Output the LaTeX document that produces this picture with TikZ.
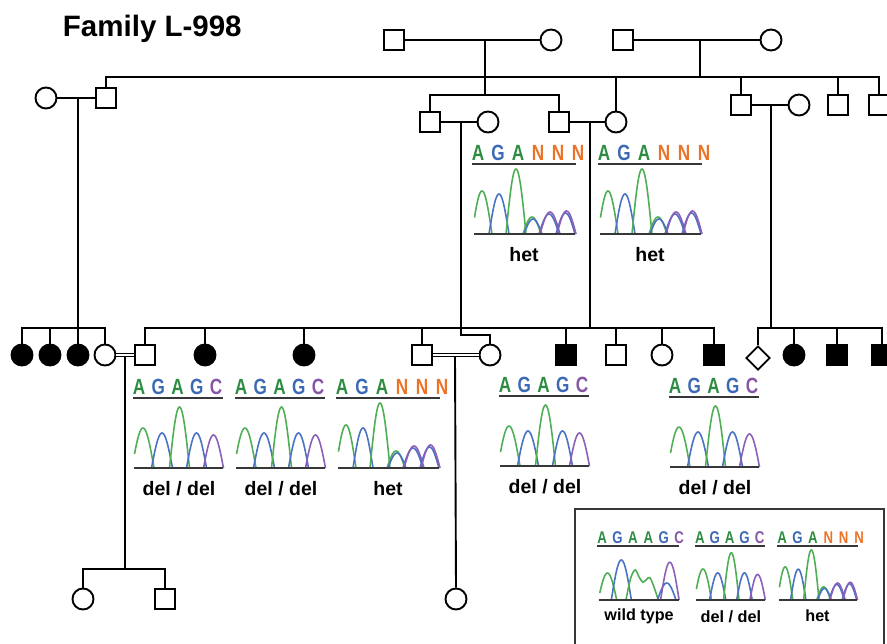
\documentclass[tikz,border=0pt]{standalone}
\usepackage{fontspec}
\setmainfont{Liberation Sans}
\usepackage{graphicx}
\usetikzlibrary{shapes.geometric}

\definecolor{seqA}{RGB}{45,140,65}
\definecolor{seqG}{RGB}{60,105,180}
\definecolor{seqC}{RGB}{135,85,165}
\definecolor{seqN}{RGB}{235,115,40}
\definecolor{trgreen}{RGB}{80,175,85}
\definecolor{trblue}{RGB}{75,115,195}
\definecolor{trpurple}{RGB}{140,95,185}
\definecolor{rulegray}{RGB}{55,55,55}

\newcommand{\narrow}[1]{\scalebox{0.78}[1]{#1}}
\newcommand{\peak}[4]{\draw[trace,#4] plot[domain=-#2:#2,samples=25] ({#1+\x},{-#3*cos(90*\x/#2)});}
\newcommand{\peakfrom}[5]{\draw[trace,#4] plot[domain=#5:#2,samples=25] ({#1+\x},{-#3*cos(90*\x/#2)});}

\tikzset{
	male/.style={draw,rectangle,minimum size=20pt,inner sep=0,fill=white},
	female/.style={draw,circle,minimum size=21pt,inner sep=0,fill=white},
	affmale/.style={male,fill=black},
	afffemale/.style={female,fill=black},
	unknownsex/.style={draw,diamond,aspect=1,minimum size=24pt,inner sep=0,fill=white},
	consang/.style={double,double distance=1.6pt,line width=1.3pt},
	trace/.style={line width=1.6pt},
	seqrule/.style={draw=rulegray,line width=2pt},
	basecall/.style={inner sep=0,text=seq#1,font=\bfseries\fontsize{22}{22}\selectfont},
	calllabel/.style={inner sep=0,font=\bfseries\fontsize{19.5}{19.5}\selectfont},
	legendbox/.style={draw=rulegray,line width=1.5pt},
	title/.style={inner sep=0,anchor=base west,font=\bfseries\fontsize{29.5}{29.5}\selectfont},
	pics/delchrom/.style={code={
		\foreach \b [count=\i] in {A,G,A,G,C}
			\node[basecall=\b] (-b\i) at ({\i*19.25-14.25},-81) {\narrow{\b}};
		\draw[seqrule] (-1,-70) -- (89,-70);
		\peakfrom{9}{11}{40}{trgreen}{-8.5}
		\peak{28}{10.5}{35}{trblue}
		\peak{45.5}{10}{61}{trgreen}
		\peak{62.5}{10}{35}{trblue}
		\peak{79.5}{10}{33}{trpurple}
		\draw[seqrule] (0,0) -- (89,0);
		\node[calllabel] (-call) at (45,21) {del / del};
	}},
	pics/hetchrom/.style={code={
		\foreach \b [count=\i] in {A,G,A,N,N,N}
			\node[basecall=\b] (-b\i) at ({\i*20-16},-81) {\narrow{\b}};
		\draw[seqrule] (-2,-70) -- (102,-70);
		\peakfrom{8}{10}{43}{trgreen}{-7.5}
		\peak{25}{10}{40}{trblue}
		\peak{42}{10}{65}{trgreen}
		\peak{58}{9}{17}{trgreen}
		\peak{59}{9}{15}{trblue}
		\peak{75}{10}{20}{trblue}
		\peak{76}{10}{22}{trpurple}
		\peak{91.5}{9.5}{21}{trblue}
		\peak{92.5}{9.5}{23}{trpurple}
		\draw[seqrule] (0,0) -- (101,0);
		\node[calllabel] (-call) at (50,21) {het};
	}},
	pics/wtchrom/.style={code={
		\foreach \b [count=\i] in {A,G,A,A,G,C}
			\node[basecall=\b] (-b\i) at ({\i*20-16},-81) {\narrow{\b}};
		\draw[seqrule] (-2,-70) -- (104,-70);
		\peakfrom{11}{12}{35}{trgreen}{-10}
		\peak{29}{13}{52}{trblue}
		\draw[trace,trgreen] plot[smooth,tension=0.55] coordinates {(35,0) (41,-28) (47,-39) (52,-30) (57,-23) (62,-27) (66,-29) (71,-18) (77,0)};
		\peak{88}{12}{22}{trblue}
		\peak{92}{12}{49}{trpurple}
		\draw[seqrule] (0,0) -- (104,0);
		\node[calllabel] (-call) at (52,21) {wild type};
	}},
}

\begin{document}
\begin{tikzpicture}[x=1pt,y=-1pt,line width=1.9pt]
	\useasboundingbox (0,0) rectangle (887,644);
	\clip (0,0) rectangle (887,644);

	\node[title] (ttl) at (62,37) {Family L-998};

	\node[male] (g1m) at (394,40) {};
	\node[female] (g1f) at (551,40) {};
	\node[male] (g2m) at (623,40) {};
	\node[female] (g2f) at (771,40) {};

	\node[female] (ii1) at (46,98) {};
	\node[male] (ii2) at (106,98) {};
	\node[male] (ii3) at (430,122) {};
	\node[female] (ii4) at (488,122) {};
	\node[male] (ii5) at (559,122) {};
	\node[female] (ii6) at (616,122) {};
	\node[male] (ii7) at (741,105) {};
	\node[female] (ii8) at (799,105) {};
	\node[male] (ii9) at (838,105) {};
	\node[male] (ii10) at (879,105) {};

	\node[afffemale] (iii1) at (22,355) {};
	\node[afffemale] (iii2) at (50,355) {};
	\node[afffemale] (iii3) at (78,355) {};
	\node[female] (iii4) at (105,355) {};
	\node[male] (iii5) at (145,355) {};
	\node[afffemale] (iii6) at (205,355) {};
	\node[afffemale] (iii7) at (304,355) {};
	\node[male] (iii8) at (422,355) {};
	\node[female] (iii9) at (490,355) {};
	\node[affmale] (iii10) at (566,355) {};
	\node[male] (iii11) at (616,355) {};
	\node[female] (iii12) at (662,355) {};
	\node[affmale] (iii13) at (714,355) {};
	\node[unknownsex] (iii14) at (758,358) {};
	\node[afffemale] (iii15) at (794,355) {};
	\node[affmale] (iii16) at (837,355) {};
	\node[affmale] (iii17) at (882,355) {};

	\node[female] (iv1) at (83,599) {};
	\node[male] (iv2) at (165,599) {};
	\node[female] (iv3) at (456,599) {};

	\coordinate (m1) at (485,40);
	\coordinate (s1) at (485,95);
	\coordinate (m2) at (700,40);
	\coordinate (s2) at (700,77);
	\coordinate (m3) at (78,98);
	\coordinate (s3) at (78,328);
	\coordinate (m4) at (461,122);
	\coordinate (k4) at (461,335);
	\coordinate (m5) at (590,122);
	\coordinate (s5) at (590,328);
	\coordinate (m6) at (771,105);
	\coordinate (s6) at (771,328);
	\coordinate (m7) at (125,357);
	\coordinate (s7) at (125,569);
	\coordinate (m8) at (455,357);

	\draw (g1m) -- (g1f);
	\draw (g2m) -- (g2f);
	\draw (m2) -- (s2);
	\draw (ii2.north) |- (s2) -| (ii10.north);
	\foreach \c in {ii6,ii7,ii9}
		\draw (\c.north |- s2) -- (\c.north);
	\draw (m1) -- (s1);
	\draw (ii3.north) |- (s1) -| (ii5.north);

	\draw (ii1) -- (ii2);
	\draw (m3) -- (s3);
	\draw (iii1.north) |- (s3) -| (iii4.north);
	\draw (iii2.north |- s3) -- (iii2.north);
	\draw (s3) -- (iii3.north);

	\draw (ii5) -- (ii6);
	\draw (m5) -- (s5);
	\draw (iii5.north) |- (s5) -| (iii13.north);
	\foreach \c in {iii6,iii7,iii8,iii10,iii11,iii12}
		\draw (\c.north |- s5) -- (\c.north);

	\draw (ii3) -- (ii4);
	\draw (m4) -- (k4) -| (iii9.north);

	\draw (ii7) -- (ii8);
	\draw (m6) -- (s6);
	\draw (iii14.north) |- (s6) -| (iii17.north);
	\foreach \c in {iii15,iii16}
		\draw (\c.north |- s6) -- (\c.north);

	\draw[consang] (iii4) -- (iii5);
	\draw[consang] (iii8) -- (iii9);
	\draw (m7) -- (s7);
	\draw (iv1.north) |- (s7) -| (iv2.north);
	\draw (m8) -- (iv3.north);

	\pic (c1) at (474,234) {hetchrom};
	\pic (c2) at (600,234) {hetchrom};
	\pic (c3) at (134,468) {delchrom};
	\pic (c4) at (236,468) {delchrom};
	\pic (c5) at (338,468) {hetchrom};
	\pic (c6) at (500,466) {delchrom};
	\pic (c7) at (670,467) {delchrom};

	\draw[legendbox] (575,509) rectangle (884,660);
	\pic[scale=0.77,transform shape,calllabel/.append style={font=\bfseries\fontsize{21}{21}\selectfont}] (k1) at (599,600) {wtchrom};
	\pic[scale=0.775,transform shape,calllabel/.append style={font=\bfseries\fontsize{21}{21}\selectfont}] (k2) at (696,600) {delchrom};
	\pic[scale=0.77,transform shape,calllabel/.append style={font=\bfseries\fontsize{21}{21}\selectfont}] (k3) at (779,600) {hetchrom};
\end{tikzpicture}
\end{document}
